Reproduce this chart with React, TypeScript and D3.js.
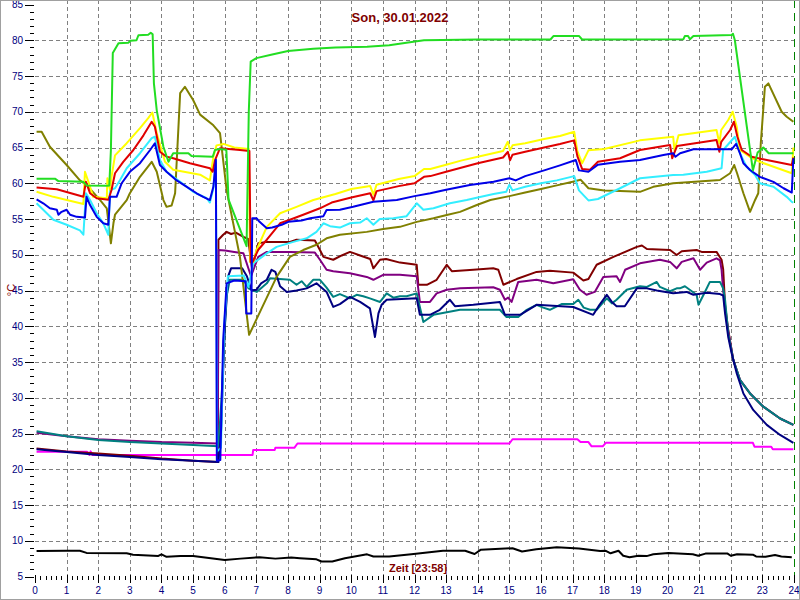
import React from 'react';
import * as d3 from 'd3';

type Pt = [number, number];

const X_TICKS: number[] = d3.range(0, 25);
const Y_TICKS: number[] = [5, 10, 15, 20, 25, 30, 35, 40, 45, 50, 55, 60, 65, 70, 75, 80, 85];
const Y_GRID: number[] = [10, 15, 20, 25, 30, 35, 40, 45, 50, 55, 60, 65, 70, 75, 80];
const TITLE = 'Son, 30.01.2022';
const X_TITLE = 'Zeit [23:58]';
const Y_TITLE = '°C';

const black: Pt[] = [[0.05,8.57],[1.0,8.6],[1.42,8.6],[1.63,8.3],[2.9,8.25],[3.1,8.05],[3.9,7.87],[4.0,8.1],[4.16,7.75],[4.6,7.87],[5.0,7.87],[5.5,7.6],[6.0,7.3],[6.5,7.5],[7.1,7.7],[7.6,7.5],[8.1,7.65],[8.38,7.55],[8.9,7.4],[9.06,7.1],[9.4,7.1],[9.8,7.55],[10.5,8.1],[10.7,7.8],[11.2,7.8],[11.9,8.1],[12.9,8.6],[13.6,8.6],[13.9,8.15],[14.1,8.75],[15.1,8.95],[15.4,8.5],[15.85,8.8],[16.5,9.1],[17.2,8.9],[17.87,8.57],[18.05,8.6],[18.2,8.25],[18.45,8.6],[18.6,7.9],[18.8,7.7],[19.08,7.9],[19.34,7.85],[19.55,8.1],[20.03,8.3],[20.8,8.1],[20.97,7.9],[21.2,8.2],[21.9,8.2],[22.0,7.9],[22.2,8.1],[22.7,8.05],[22.8,7.8],[23.1,7.75],[23.4,8.0],[23.6,7.8],[23.93,7.7]];

const magenta: Pt[] = [[0.05,22.45],[1.65,22.45],[1.72,22.0],[1.76,22.5],[1.82,22.0],[5.8,22.0],[6.88,22.0],[6.9,22.7],[7.58,22.7],[7.6,23.0],[8.2,23.0],[8.3,23.6],[15.0,23.6],[15.1,24.2],[17.15,24.2],[17.25,23.8],[17.5,23.8],[17.6,23.2],[17.95,23.2],[18.05,23.7],[22.7,23.7],[22.75,23.15],[23.28,23.15],[23.33,22.8],[23.98,22.8]];

const maroon: Pt[] = [[0.05,22.9],[1,22.5],[2,22.2],[3,21.9],[4,21.5],[5,21.2],[5.78,21.0],[5.8,52.1],[5.95,52.8],[6.06,53.2],[6.2,52.9],[6.35,53.1],[6.59,52.5],[6.74,52.2],[6.86,48.2],[6.95,49.5],[7.06,51.6],[7.33,51.8],[8.06,51.8],[8.27,52.1],[8.85,52.0],[9.01,50.66],[9.12,49.7],[9.43,49.3],[9.7,49.9],[9.96,50.4],[10.28,49.9],[10.6,49.4],[10.7,48.1],[10.91,49.3],[11.1,49.4],[11.54,48.9],[12.07,48.6],[12.12,45.8],[12.39,45.8],[12.7,46.5],[13.02,48.6],[13.18,47.7],[13.86,47.9],[14.49,48.1],[14.65,47.9],[14.81,45.8],[15.23,46.6],[15.86,47.6],[16.28,47.75],[17.02,47.5],[17.34,46.4],[17.5,46.6],[17.76,48.6],[18.29,49.7],[19.03,51.1],[19.19,51.3],[19.35,50.8],[20.08,50.66],[20.29,49.96],[20.45,50.5],[20.92,50.66],[21.08,50.4],[21.55,50.4],[21.71,49.3],[21.76,48.0],[21.82,43.0],[21.92,39.5],[22.08,35.3],[22.29,32.5],[22.61,30.6],[23.03,28.75],[23.56,27.1],[23.98,26.2]];

const purple: Pt[] = [[0.05,25.1],[1,24.6],[2,24.2],[3,24.0],[4,23.8],[5,23.7],[5.78,23.6],[5.8,50.66],[6.01,50.6],[6.3,50.4],[6.59,50.2],[6.83,47.0],[7.06,49.7],[7.33,50.4],[8.06,50.4],[8.85,50.3],[9.01,49.3],[9.22,47.9],[9.43,47.7],[9.96,47.4],[10.49,46.9],[10.7,46.5],[11.01,47.2],[11.54,47.2],[12.07,47.0],[12.17,43.4],[12.49,43.4],[12.7,44.6],[13.02,45.1],[13.44,45.3],[14.49,45.45],[14.7,45.1],[14.86,43.7],[14.96,44.0],[15.07,43.4],[15.28,46.2],[15.86,46.5],[16.39,46.0],[17.02,46.57],[17.23,45.1],[17.44,44.4],[17.7,44.8],[17.97,46.9],[18.39,47.0],[18.5,46.2],[18.66,47.9],[19.13,48.8],[19.76,49.3],[20.08,49.0],[20.29,48.1],[20.45,49.0],[20.82,49.5],[21.03,47.9],[21.24,48.9],[21.55,49.5],[21.66,49.2],[21.71,47.9],[21.76,45.0],[21.82,42.5],[21.92,39.3],[22.08,35.3],[22.29,32.5],[22.61,30.6],[23.03,28.75],[23.56,27.1],[23.98,26.2]];

const teal: Pt[] = [[0.05,25.3],[1,24.6],[2,24.1],[3,23.8],[4,23.6],[5,23.4],[5.8,23.2],[5.9,30],[6.05,44],[6.16,46.5],[6.59,46.5],[6.75,45.3],[7.01,44.8],[7.33,46.0],[7.43,46.7],[8.06,46.5],[8.27,45.8],[8.43,46.3],[8.59,45.5],[8.8,46.5],[9.01,46.5],[9.22,45.4],[9.43,44.1],[9.64,44.5],[9.96,43.9],[10.17,44.4],[10.38,44.2],[10.59,43.9],[10.91,43.4],[11.12,44.6],[11.33,44.0],[11.54,44.2],[11.75,44.2],[12.07,44.6],[12.28,40.6],[12.6,41.6],[13.44,42.3],[14.7,42.3],[14.91,41.3],[15.28,41.3],[15.55,42.3],[15.86,43.0],[16.07,42.6],[16.28,42.3],[16.65,43.1],[17.02,43.1],[17.18,43.7],[17.35,42.6],[17.55,42.3],[17.76,42.3],[18.08,43.9],[18.24,43.2],[18.39,43.7],[18.71,45.1],[19.13,45.6],[19.35,45.5],[19.66,46.2],[19.76,45.5],[20.08,44.9],[20.29,45.3],[20.39,45.3],[20.55,45.6],[20.92,44.4],[20.98,43.0],[21.14,44.4],[21.34,46.2],[21.66,46.2],[21.76,45.3],[21.82,43.7],[21.92,39.0],[22.08,35.3],[22.29,32.5],[22.61,30.6],[23.03,28.75],[23.56,27.1],[23.98,26.2]];

const navy: Pt[] = [[0.05,22.8],[1,22.4],[2,22.0],[3,21.7],[4,21.4],[5,21.2],[5.8,21.0],[5.88,25],[6.0,40],[6.11,47.0],[6.2,48.1],[6.55,48.1],[6.7,47.0],[6.85,45.0],[7.0,45.1],[7.15,46.0],[7.33,46.5],[7.48,47.9],[7.6,47.6],[7.75,45.6],[7.96,44.8],[8.27,45.0],[8.59,45.3],[8.9,46.0],[9.22,44.8],[9.43,42.7],[9.64,43.1],[9.96,44.1],[10.28,43.4],[10.59,42.5],[10.75,38.5],[10.86,41.8],[10.96,43.0],[11.12,43.7],[12.07,43.9],[12.17,41.6],[12.49,41.6],[12.8,42.3],[13.12,43.7],[13.28,42.8],[13.86,43.0],[14.7,43.4],[14.86,41.6],[15.34,41.6],[15.86,43.0],[17.02,42.7],[17.65,41.6],[17.85,43.0],[18.08,44.4],[18.24,43.4],[18.39,42.8],[18.65,42.8],[19.03,45.3],[19.35,45.3],[19.66,45.0],[20.18,44.6],[20.6,44.8],[20.82,44.4],[21.24,44.7],[21.66,44.5],[21.76,44.3],[21.82,41.8],[21.92,38.5],[22.03,36.2],[22.19,33.4],[22.4,30.6],[22.71,28.3],[23.14,26.2],[23.56,24.8],[23.98,23.7]];

const olive: Pt[] = [[0.05,67.2],[0.21,67.2],[0.47,65.1],[1.0,62.55],[1.42,60.4],[1.63,59.75],[2.06,57.65],[2.27,56.5],[2.4,51.6],[2.48,54.4],[2.53,55.6],[2.9,57.65],[3.0,58.6],[3.32,60.9],[3.69,63.0],[3.85,61.6],[4.06,57.65],[4.16,56.7],[4.32,56.9],[4.43,58.6],[4.59,72.6],[4.74,73.5],[5.0,71.65],[5.22,69.6],[5.64,68.1],[5.85,67.0],[6.06,59.0],[6.48,49.7],[6.77,38.8],[7.64,46.9],[8.06,49.7],[8.48,50.66],[8.9,51.4],[9.22,52.3],[9.64,52.8],[10.49,53.2],[11.01,53.6],[11.54,53.9],[12.07,54.6],[12.6,55.1],[13.02,55.56],[13.44,56.0],[13.97,56.96],[14.4,57.66],[15.0,58.2],[15.5,58.7],[16.0,59.2],[16.5,59.7],[17.0,60.2],[17.25,60.5],[17.5,59.3],[18.0,59.0],[18.5,58.9],[19.13,58.8],[19.55,59.5],[20.18,60.0],[21.66,60.45],[21.98,61.4],[22.11,62.55],[22.2,61.4],[22.4,58.6],[22.61,56.0],[22.77,57.66],[22.87,58.6],[22.95,65.6],[23.08,73.5],[23.19,73.97],[23.61,70.0],[23.77,69.3],[23.98,68.6]];

const cyan: Pt[] = [[0.05,57.2],[0.26,56.3],[0.58,54.9],[1.0,54.2],[1.42,53.4],[1.53,52.8],[1.61,58.6],[1.74,57.65],[1.95,55.8],[2.16,54.4],[2.32,52.8],[2.37,59.05],[2.53,59.3],[2.69,60.45],[2.9,62.1],[3.32,64.2],[3.69,66.3],[3.79,66.5],[3.95,63.25],[4.16,61.6],[4.59,60.2],[5.0,58.8],[5.43,57.9],[5.53,57.3],[5.64,59.3],[5.72,63.0],[5.76,22.5],[5.88,23.0],[5.98,40],[6.1,47.0],[6.6,47.1],[6.75,45.5],[6.9,48.8],[7.33,50.2],[7.64,51.1],[8.17,51.8],[8.59,52.3],[8.9,53.2],[9.12,54.4],[9.33,54.0],[9.64,53.8],[9.96,54.4],[10.28,54.5],[10.49,55.1],[10.7,54.2],[10.9,55.0],[11.33,55.1],[11.75,55.4],[12.07,57.2],[12.28,56.3],[12.6,56.5],[13.12,57.2],[13.65,57.66],[14.0,58.0],[14.5,58.5],[14.9,58.8],[15.0,59.8],[15.1,59.0],[15.5,59.5],[16.0,60.0],[16.5,60.4],[17.05,61.0],[17.2,59.0],[17.5,57.6],[17.8,57.8],[18.5,59.3],[19.13,60.7],[20.18,61.15],[20.5,61.2],[21.24,61.6],[21.71,62.1],[21.76,64.65],[22.13,66.5],[22.29,64.2],[22.5,62.3],[22.77,61.15],[22.92,60.0],[23.35,59.5],[23.77,58.1],[23.93,57.4],[23.98,57.3]];

const yellow: Pt[] = [[0.05,58.8],[0.58,58.1],[1.53,57.1],[1.58,61.6],[1.69,60.2],[1.84,58.1],[2.27,57.9],[2.29,60.7],[2.37,59.1],[2.42,60.9],[2.53,63.9],[2.9,65.6],[3.32,67.7],[3.58,69.1],[3.71,69.9],[3.85,67.0],[4.11,63.0],[4.37,61.9],[5.22,61.2],[5.53,60.4],[5.64,63.7],[5.74,65.3],[5.96,65.5],[6.3,65.0],[6.76,64.8],[6.8,49.0],[6.9,49.0],[7.01,50.7],[7.33,53.9],[7.75,55.8],[8.27,56.7],[8.8,57.66],[9.5,58.5],[10.0,59.2],[10.6,59.6],[10.7,58.4],[10.8,59.8],[11.5,60.6],[12.0,61.0],[12.3,62.0],[12.5,62.0],[13.0,62.6],[13.5,63.2],[14.0,63.7],[14.8,64.5],[14.95,65.8],[15.02,64.6],[15.1,65.3],[15.5,65.6],[16.1,66.2],[16.6,66.6],[17.05,67.2],[17.15,64.5],[17.3,62.8],[17.5,64.6],[18.0,64.8],[19.13,66.0],[20.18,66.5],[20.22,64.6],[20.35,66.7],[21.55,67.45],[21.64,65.6],[21.7,67.45],[21.92,68.85],[22.06,70.0],[22.19,67.9],[22.29,64.65],[22.6,63.7],[22.92,63.0],[23.93,61.4],[23.98,65.0]];

const red: Pt[] = [[0.05,59.4],[0.69,59.15],[1.53,58.1],[1.61,60.2],[1.74,58.6],[1.95,57.9],[2.32,57.7],[2.42,59.05],[2.53,61.4],[2.79,63.0],[3.11,64.65],[3.43,66.7],[3.69,68.6],[3.79,67.9],[3.95,64.4],[4.16,63.7],[4.37,63.5],[4.9,62.8],[5.53,62.1],[5.62,61.6],[5.69,63.2],[5.85,64.9],[6.48,64.65],[6.78,64.5],[6.82,49.0],[6.88,49.0],[7.06,50.7],[7.33,52.1],[7.75,54.4],[8.06,54.9],[8.48,55.6],[9.01,56.5],[9.38,57.3],[10.0,58.0],[10.6,58.6],[10.7,57.6],[10.8,58.9],[11.5,59.6],[12.0,60.0],[12.3,60.9],[12.5,61.0],[13.0,61.6],[13.5,62.2],[14.0,62.8],[14.8,63.6],[14.95,64.4],[15.02,63.2],[15.1,64.0],[15.5,64.4],[16.1,65.0],[16.6,65.5],[17.05,66.0],[17.15,63.8],[17.3,62.0],[17.55,61.9],[17.8,63.0],[18.5,63.5],[19.13,64.65],[20.08,65.35],[20.15,63.5],[20.3,65.2],[21.55,66.05],[21.64,64.4],[21.7,65.8],[21.98,67.45],[22.1,68.6],[22.21,66.5],[22.35,64.65],[22.66,63.7],[23.14,63.25],[23.93,62.55],[23.98,63.6]];

const blue: Pt[] = [[0.05,57.75],[0.26,57.2],[0.47,56.5],[0.69,56.3],[0.74,55.6],[0.84,56.0],[1.0,56.3],[1.11,55.6],[1.32,55.3],[1.58,55.2],[1.63,58.1],[1.74,56.95],[1.95,55.3],[2.16,54.4],[2.32,54.2],[2.37,58.1],[2.58,58.1],[2.74,60.0],[3.0,61.6],[3.32,62.8],[3.64,64.65],[3.79,65.6],[3.95,62.55],[4.16,61.6],[4.48,60.4],[4.8,59.5],[5.11,58.6],[5.32,58.1],[5.53,57.65],[5.64,59.5],[5.72,63.3],[5.75,21.2],[5.86,21.3],[5.95,38],[6.06,46.0],[6.3,46.4],[6.66,46.3],[6.68,41.8],[6.84,41.8],[6.87,55.1],[7.01,55.1],[7.1,54.6],[7.33,53.7],[7.5,53.8],[7.8,54.2],[8.01,54.6],[8.43,54.8],[8.7,55.1],[9.12,55.4],[9.22,56.26],[9.64,56.3],[10.06,56.7],[10.7,57.4],[11.44,57.66],[12.0,58.2],[12.5,58.6],[13.0,59.1],[13.75,59.75],[14.5,60.2],[15.0,60.7],[15.2,60.4],[15.5,61.0],[16.1,61.8],[16.6,62.5],[17.1,63.25],[17.2,61.8],[17.5,61.6],[17.8,62.6],[18.5,63.0],[19.13,63.25],[19.87,63.95],[20.18,64.2],[20.25,63.7],[20.4,64.2],[20.82,64.75],[22.03,64.75],[22.17,65.5],[22.29,64.2],[22.4,62.8],[22.61,61.85],[22.92,60.9],[23.35,60.2],[23.67,59.3],[23.93,58.7],[23.98,63.5]];

const green: Pt[] = [[0.05,60.64],[0.63,60.64],[0.74,60.3],[1.53,60.2],[1.63,59.7],[2.27,59.66],[2.35,59.7],[2.4,64.65],[2.46,78.2],[2.64,79.57],[2.95,79.66],[3.02,79.94],[3.21,80.0],[3.27,80.7],[3.58,80.78],[3.66,81.06],[3.72,80.83],[3.76,73.97],[3.85,70.2],[4.06,65.1],[4.22,63.0],[4.37,64.2],[4.85,64.2],[4.95,63.8],[5.62,63.7],[5.69,64.65],[5.85,64.8],[6.05,64.7],[6.12,57.7],[6.69,51.2],[6.76,70],[6.82,77.0],[7.0,77.5],[7.5,78.0],[8.0,78.5],[8.8,78.8],[9.5,79.0],[10.5,79.1],[11.2,79.3],[11.8,79.7],[12.3,80.0],[14.0,80.1],[16.3,80.1],[16.4,80.6],[17.2,80.6],[17.3,80.1],[20.5,80.13],[20.55,80.6],[20.65,80.6],[20.71,80.13],[20.82,80.6],[22.03,80.73],[22.07,80.9],[22.13,80.0],[22.7,61.8],[22.85,64.3],[23.03,65.0],[23.2,64.2],[23.98,64.2]];

const SERIES: { color: string; data: Pt[] }[] = [
  { color: '#000000', data: black },
  { color: '#ff00ff', data: magenta },
  { color: '#800000', data: maroon },
  { color: '#800080', data: purple },
  { color: '#008080', data: teal },
  { color: '#000080', data: navy },
  { color: '#808000', data: olive },
  { color: '#33eeff', data: cyan },
  { color: '#ffff00', data: yellow },
  { color: '#e00000', data: red },
  { color: '#0000e8', data: blue },
  { color: '#22dd22', data: green },
];

const FONT = '"Liberation Sans", Arial, sans-serif';

export default function App() {
  const W = 800, H = 600;
  const x = d3.scaleLinear().domain([0, 24]).range([35, 794]);
  const y = d3.scaleLinear().domain([5, 85]).range([576.5, 4.5]);
  const line = d3.line<Pt>().x(d => x(d[0])).y(d => y(d[1]));
  const minorX = d3.range(0, 24 * 6 + 1).map(i => i / 6).filter(v => Math.abs(v - Math.round(v)) > 1e-6);
  const minorY = d3.range(5, 86).filter(v => v % 5 !== 0);

  return (
    <svg width={W} height={H} style={{ position: 'absolute', left: 0, top: 0, background: '#fff' }} fontFamily={FONT}>
      <rect x={0} y={0} width={W} height={H} fill="#fff" />
      {/* grid */}
      <g stroke="#808080" strokeWidth={1} strokeDasharray="4,3" shapeRendering="crispEdges">
        {X_TICKS.filter(h => h > 0 && h < 24).map(h => (
          <line key={'gx' + h} x1={Math.round(x(h)) + 0.5} x2={Math.round(x(h)) + 0.5} y1={0} y2={576} />
        ))}
        {Y_GRID.map(v => (
          <line key={'gy' + v} x1={35} x2={794} y1={Math.round(y(v)) + 0.5} y2={Math.round(y(v)) + 0.5} />
        ))}
      </g>
      <line x1={794.5} x2={794.5} y1={0} y2={577} stroke="#008000" strokeWidth={1} strokeDasharray="8,5" shapeRendering="crispEdges" />
      {/* axes ticks */}
      <g stroke="#000" strokeWidth={1} shapeRendering="crispEdges">
        {Y_TICKS.map(v => (
          <line key={'ty' + v} x1={25} x2={34} y1={Math.round(y(v)) + 0.5} y2={Math.round(y(v)) + 0.5} />
        ))}
        {minorY.map(v => (
          <line key={'my' + v} x1={30} x2={34} y1={Math.round(y(v)) + 0.5} y2={Math.round(y(v)) + 0.5} />
        ))}
        {X_TICKS.map(h => (
          <line key={'tx' + h} x1={Math.round(x(h)) + 0.5} x2={Math.round(x(h)) + 0.5} y1={575} y2={583} />
        ))}
        {minorX.map(h => (
          <line key={'mx' + h} x1={Math.round(x(h)) + 0.5} x2={Math.round(x(h)) + 0.5} y1={576} y2={580} />
        ))}
      </g>
      <g fill="#000080" fontSize={10}>
        {Y_TICKS.map(v => (
          <text key={'ly' + v} x={23} y={y(v)} dy="0.35em" textAnchor="end">{v}</text>
        ))}
        {X_TICKS.map(h => (
          <text key={'lx' + h} x={x(h)} y={594} textAnchor="middle">{h}</text>
        ))}
      </g>
      {/* series */}
      <g fill="none" strokeWidth={2} strokeLinejoin="round">
        {SERIES.map((s, i) => (
          <path key={'s' + i} d={line(s.data) || ''} stroke={s.color} />
        ))}
      </g>
      {/* titles */}
      <text x={400} y={22} textAnchor="middle" fill="#800000" fontWeight="bold" fontSize={13}>{TITLE}</text>
      <text x={389} y={572} fill="#800000" fontWeight="bold" fontSize={11}>{X_TITLE}</text>
      <text transform="translate(15,290) rotate(-90)" textAnchor="middle" fill="#800000" fontSize={11}>{Y_TITLE}</text>
      {/* frame */}
      <rect x={0.5} y={0.5} width={W - 1} height={H - 1} fill="none" stroke="#a0a0a0" strokeWidth={1} />
    </svg>
  );
}
